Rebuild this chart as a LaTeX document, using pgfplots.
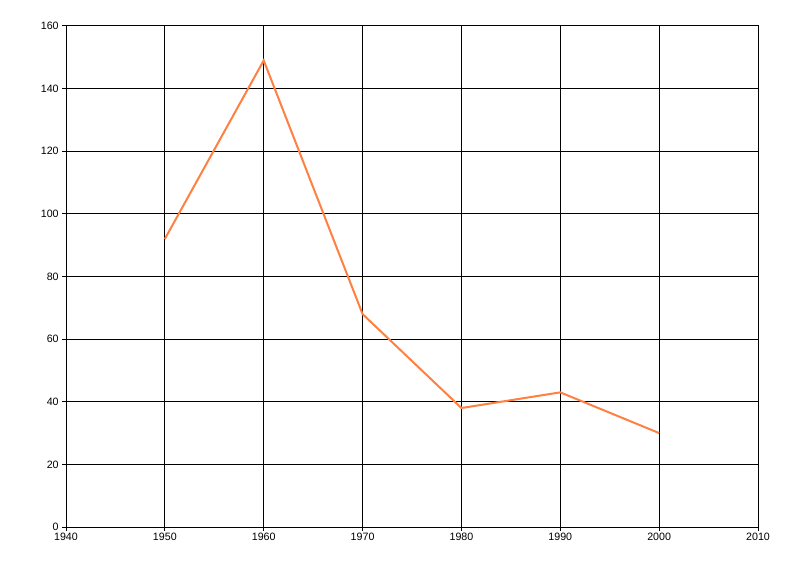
\documentclass[border=0pt]{standalone}
\usepackage{pgfplots}
\pgfplotsset{compat=1.18}
\usepackage{fontspec}
\setmainfont{Liberation Sans}
\definecolor{lineorange}{RGB}{255,128,64}

\begin{document}
\begin{tikzpicture}
\begin{axis}[
    scale only axis,
    width=519pt, height=375.75pt,
    xmin=1940, xmax=2010,
    ymin=0, ymax=160,
    xtick={1940,1950,...,2010},
    ytick={0,20,...,160},
    xticklabel style={/pgf/number format/1000 sep={}},
    /pgf/number format/assume math mode=true,
    tick label style={font=\fontsize{8}{9}\selectfont, text=black},
    tick align=outside,
    tick pos=left,
    major tick length=3pt,
    tick style={black, line width=0.75pt},
    axis line style={black, line width=0.75pt},
    grid=major,
    grid style={black, line width=0.75pt},
    xticklabel shift=-2pt,
    yticklabel shift=-1pt,
]
\addplot[color=lineorange, line width=1.5pt, no markers] coordinates {
    (1950, 92)
    (1960, 149)
    (1970, 68)
    (1980, 38)
    (1990, 43)
    (2000, 30)
};
\coordinate (ll) at (rel axis cs:0,0);
\coordinate (ur) at (rel axis cs:1,1);
\end{axis}
\path ([shift={(-49.5pt,-36.75pt)}]ll) rectangle ([shift={(31.5pt,19.5pt)}]ur);
\end{tikzpicture}
\end{document}
